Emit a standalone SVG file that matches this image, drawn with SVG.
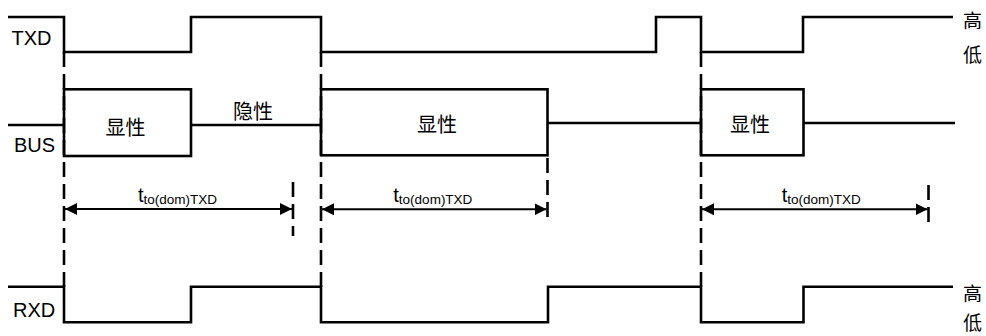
<svg xmlns="http://www.w3.org/2000/svg" width="986" height="336" viewBox="0 0 986 336">
<defs>
<style>
.sig{fill:none;stroke:#000;stroke-width:2.6;stroke-linejoin:miter;stroke-linecap:butt}
.dash{fill:none;stroke:#000;stroke-width:2.6;stroke-dasharray:15 7}
.dim{fill:none;stroke:#000;stroke-width:2;marker-start:url(#ah);marker-end:url(#ah)}
.lbl{font-family:"Liberation Sans",Arial,sans-serif;font-size:20px;fill:#000}
.cn{font-family:"Noto Sans CJK SC","Liberation Sans",sans-serif;font-size:20px;fill:#000;text-anchor:middle}
.cs{font-family:"Noto Sans CJK SC","Liberation Sans",sans-serif;font-size:19px;fill:#000;text-anchor:middle}
.t{font-family:"Liberation Sans",Arial,sans-serif;font-size:20px;fill:#000}
.sub{font-size:13.5px}
</style>
<marker id="ah" viewBox="0 0 12 12" refX="12" refY="6" markerWidth="12" markerHeight="12" markerUnits="userSpaceOnUse" orient="auto-start-reverse">
<path d="M0,0 L12,6 L0,12 Z" fill="#000"/>
</marker>
</defs>
<rect width="986" height="336" fill="#fff"/>

<g id="labels">
<text class="lbl" x="11.5" y="45">TXD</text>
<text class="lbl" x="14" y="152">BUS</text>
<text class="lbl" x="13" y="317">RXD</text>
<text class="cs" x="972.5" y="28">高</text>
<text class="cs" x="972.5" y="62">低</text>
<text class="cs" x="972.5" y="301">高</text>
<text class="cs" x="972.5" y="329.5">低</text>
</g>

<g id="txd">
<path class="sig" d="M8,17 H64 V52 H191 V17 H321 V52 H656 V17 H701 V52 H803 V17 H953"/>
</g>

<g id="bus">
<path class="sig" d="M8,125 H64"/>
<rect class="sig" x="64" y="89.3" width="127" height="66.7"/>
<path class="sig" d="M191,125 H321"/>
<rect class="sig" x="321" y="89.3" width="226.5" height="66"/>
<path class="sig" d="M547.5,123 H701"/>
<rect class="sig" x="701" y="89.3" width="102.5" height="66"/>
<path class="sig" d="M803.5,123 H955"/>
<text class="cn" x="125.5" y="135">显性</text>
<text class="cn" x="253" y="118.5">隐性</text>
<text class="cn" x="437" y="132">显性</text>
<text class="cn" x="750" y="131.5">显性</text>
</g>

<g id="rxd">
<path class="sig" d="M8,286.7 H64 V322.3 H191 V286.7 H321 V322.3 H548 V286.7 H701 V322.3 H803.5 V286.7 H953"/>
</g>

<g id="connectors">
<path class="dash" d="M64,52 V287"/>
<path class="dash" d="M321,52 V287"/>
<path class="dash" d="M701,52 V287"/>
<path class="dash" d="M547.5,158 V217"/>
<path class="dash" d="M293,182 V236"/>
<path class="dash" d="M928.5,185 V223"/>
<path class="dim" d="M65,209 H292"/>
<path class="dim" d="M322,209.3 H546.5"/>
<path class="dim" d="M702,209.3 H927.5"/>
<text class="t" x="138" y="202">t<tspan class="sub" dy="1.5">to(dom)TXD</tspan></text>
<text class="t" x="393.3" y="202">t<tspan class="sub" dy="1.5">to(dom)TXD</tspan></text>
<text class="t" x="781.7" y="202">t<tspan class="sub" dy="1.5">to(dom)TXD</tspan></text>
</g>
</svg>
